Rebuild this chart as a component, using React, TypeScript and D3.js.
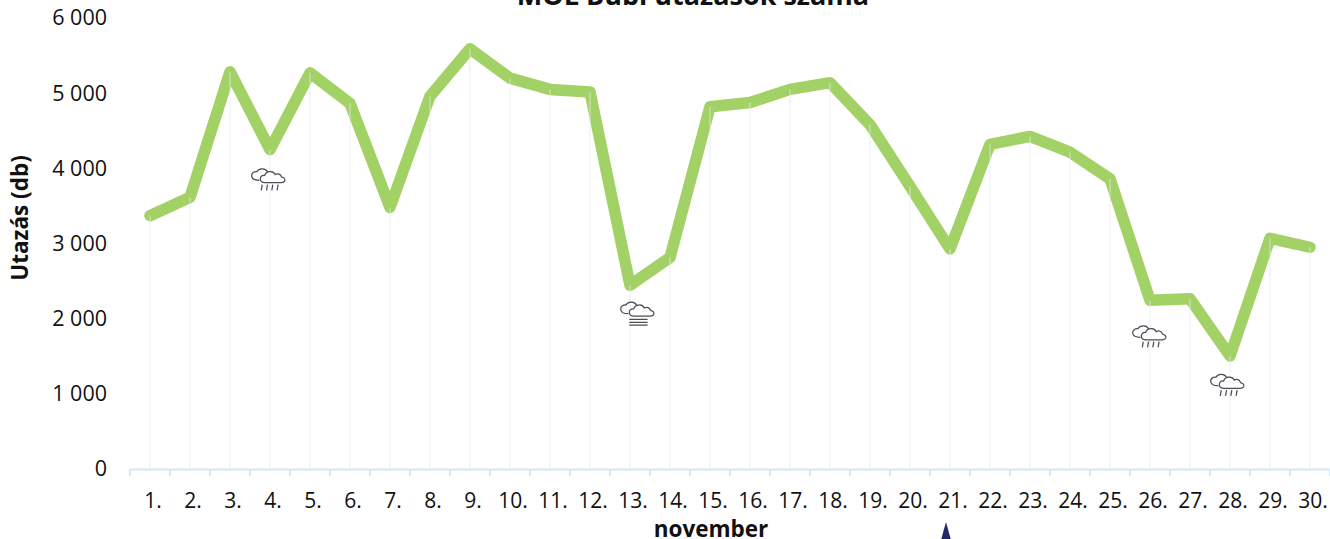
import React, { useEffect, useRef } from 'react';
import * as d3 from 'd3';

const days = ['1.', '2.', '3.', '4.', '5.', '6.', '7.', '8.', '9.', '10.', '11.', '12.', '13.', '14.', '15.', '16.', '17.', '18.', '19.', '20.', '21.', '22.', '23.', '24.', '25.', '26.', '27.', '28.', '29.', '30.'];
const trips = [3370, 3615, 5285, 4250, 5270, 4865, 3480, 4960, 5590, 5200, 5050, 5015, 2445, 2815, 4820, 4875, 5050, 5140, 4580, 3760, 2927, 4320, 4425, 4215, 3860, 2245, 2265, 1503, 3070, 2950];
const yTicks = [0, 1000, 2000, 3000, 4000, 5000, 6000];

const weatherDays = ['4.', '13.', '26.', '28.'];
const weatherKinds = ['rain', 'fog', 'rain', 'rain'];
const weatherLevels = [3860, 2085, 1770, 1125];
const weatherNudges = [-2, 7, -1, -3];

const BACK_CLOUD = 'M-9 1.5C-13 1.5 -17 0 -17 -3.5C-17 -6.5 -14 -8 -11.5 -7.5C-10 -11 -3 -12 -0.5 -7.5C1 -7.5 3 -7 4 -6';
const FRONT_CLOUD = 'M-3 4C-7 4 -8 1.5 -8 0C-8 -2.5 -6 -4 -3.5 -3.5C-2 -8.5 5.5 -9 7.5 -4.5C10 -6 13.5 -5 14 -2C17 -1.5 18 0.5 17.5 2C17 3.5 16 4 14 4Z';
const RAIN = 'M-7 12L-6 6M-1.5 12L-0.5 6M4 12L5 6M9.5 12L10.5 6';
const FOG = 'M-8 7.5H11M-8 10.5H11M-8 13.5H11';

const App = () => {
  const svgRef = useRef<SVGSVGElement>(null);

  useEffect(() => {
    const width = 1330;
    const height = 539;
    const font = '"Open Sans", sans-serif';

    const svg = d3.select(svgRef.current);
    svg.selectAll('*').remove();

    const x = d3.scaleBand<string>().domain(days).range([130, 1330]);
    const y = d3.scaleLinear().domain([0, 6000]).range([469, 18]);
    const cx = (d: string) => (x(d) as number) + x.bandwidth() / 2;

    // Series line
    const line = d3
      .line<number>()
      .x((_, i) => cx(days[i]))
      .y((d) => y(d));

    svg
      .append('path')
      .datum(trips)
      .attr('fill', 'none')
      .attr('stroke', '#a2d165')
      .attr('stroke-width', 11.5)
      .attr('stroke-linejoin', 'round')
      .attr('stroke-linecap', 'round')
      .attr('d', line);

    // Drop lines
    svg
      .selectAll('.drop')
      .data(trips)
      .enter()
      .append('line')
      .attr('class', 'drop')
      .attr('x1', (_, i) => cx(days[i]))
      .attr('x2', (_, i) => cx(days[i]))
      .attr('y1', (d) => y(d))
      .attr('y2', y(0))
      .attr('stroke', '#e3e8ec')
      .attr('stroke-opacity', 0.4)
      .attr('stroke-width', 2);

    // X axis
    const xAxis = svg
      .append('g')
      .attr('transform', `translate(0,${y(0)})`)
      .call(d3.axisBottom(x).tickSize(0).tickPadding(24));
    xAxis.select('.domain').attr('stroke', '#d3e8f6').attr('stroke-width', 2);
    xAxis
      .selectAll('.tick text')
      .attr('dx', 3)
      .attr('fill', '#111')
      .attr('font-family', font)
      .attr('font-size', 21);
    xAxis.selectAll('.tick line').remove();

    // Axis ticks sit on the band edges
    svg
      .selectAll('.xtick')
      .data([...days, ''])
      .enter()
      .append('line')
      .attr('class', 'xtick')
      .attr('x1', (_, i) => (i < days.length ? (x(days[i]) as number) : 1330))
      .attr('x2', (_, i) => (i < days.length ? (x(days[i]) as number) : 1330))
      .attr('y1', y(0))
      .attr('y2', y(0) + 7)
      .attr('stroke', '#d3e8f6')
      .attr('stroke-width', 2);

    // Y axis
    const yAxis = svg
      .append('g')
      .attr('transform', 'translate(107,0)')
      .call(
        d3
          .axisLeft(y)
          .tickValues(yTicks)
          .tickSize(0)
          .tickPadding(0)
          .tickFormat((d) => d3.format(',')(d as number).replace(',', ' ')),
      );
    yAxis.select('.domain').remove();
    yAxis
      .selectAll('.tick text')
      .attr('fill', '#111')
      .attr('font-family', font)
      .attr('font-size', 21.5);

    // Weather icons
    const icons = svg
      .selectAll('.weather')
      .data(weatherDays)
      .enter()
      .append('g')
      .attr('class', 'weather')
      .attr('transform', (d, i) => `translate(${cx(d) + weatherNudges[i]},${y(weatherLevels[i])}) scale(0.96)`)
      .attr('fill', 'none')
      .attr('stroke', '#4a4f56')
      .attr('stroke-width', 1.3);
    icons.append('path').attr('d', BACK_CLOUD);
    icons.append('path').attr('d', FRONT_CLOUD).attr('fill', '#fff');
    icons.append('path').attr('d', (_, i) => (weatherKinds[i] === 'rain' ? RAIN : FOG));

    // Titles
    svg
      .append('text')
      .attr('x', 693)
      .attr('y', 5)
      .attr('text-anchor', 'middle')
      .attr('font-family', font)
      .attr('font-size', 27)
      .attr('font-weight', 700)
      .attr('fill', '#111')
      .text('MOL Bubi utazások száma');

    svg
      .append('text')
      .attr('transform', 'translate(28,218) rotate(-90)')
      .attr('text-anchor', 'middle')
      .attr('font-family', font)
      .attr('font-size', 22.5)
      .attr('font-weight', 700)
      .attr('fill', '#111')
      .text('Utazás (db)');

    svg
      .append('text')
      .attr('x', 711)
      .attr('y', 537)
      .attr('text-anchor', 'middle')
      .attr('font-family', font)
      .attr('font-size', 22.5)
      .attr('font-weight', 700)
      .attr('fill', '#111')
      .text('november');

    // Navigator handle, cut off by the bottom edge
    svg
      .append('path')
      .attr('d', d3.line()([[946, 522], [941, height + 1], [951, height + 1]]) + 'Z')
      .attr('fill', '#1f2a66');

    svg.attr('width', width).attr('height', height);
  }, []);

  return <svg ref={svgRef} style={{ position: 'absolute', left: 0, top: 0, background: '#fff' }} />;
};

export default App;
